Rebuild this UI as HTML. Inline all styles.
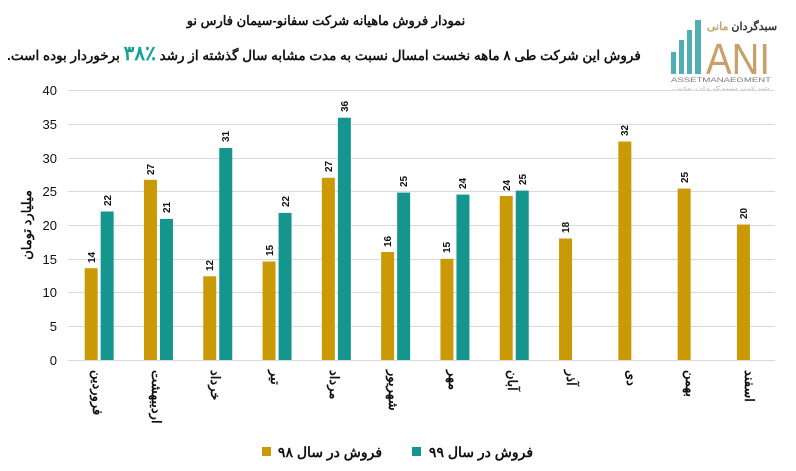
<!DOCTYPE html>
<html><head><meta charset="utf-8"><style>
html,body{margin:0;padding:0;background:#fff}
svg{display:block}
text{font-family:"Liberation Sans","Noto Sans CJK SC",sans-serif}
</style></head><body>
<svg width="796" height="471" viewBox="0 0 796 471" xmlns="http://www.w3.org/2000/svg">
<rect width="796" height="471" fill="#fff"/>
<!-- titles -->
<text x="326" y="25" text-anchor="middle" font-size="13" font-weight="bold" fill="#111">نمودار فروش ماهیانه شرکت سفانو-سیمان فارس نو</text>
<text x="324" y="60" text-anchor="middle" font-size="13.5" font-weight="bold" fill="#111" direction="rtl">فروش این شرکت طی ۸ ماهه نخست امسال نسبت به مدت مشابه سال گذشته از رشد <tspan fill="#17A096" font-size="20">٪۳۸</tspan> برخوردار بوده است.</text>
<!-- logo -->
<g fill="#4FAFB3">
<rect x="671" y="52" width="5" height="22"/>
<rect x="679" y="40" width="5" height="34"/>
<rect x="687" y="30" width="5" height="44"/>
<rect x="695" y="20" width="6" height="54"/>
</g>
<text x="742" y="30" text-anchor="middle" font-size="11" font-weight="bold" fill="#333">سبدگردان <tspan fill="#C8A06A">مانی</tspan></text>
<text x="738" y="74" text-anchor="middle" font-size="44" font-family="Liberation Serif,serif" fill="#C8A06A" textLength="64" lengthAdjust="spacingAndGlyphs">ANI</text>
<text x="721" y="82" text-anchor="middle" font-size="6.5" fill="#777" textLength="100" lengthAdjust="spacingAndGlyphs">ASSETMANAEGMENT</text>
<text x="721" y="90" text-anchor="middle" font-size="5" fill="#bbb" textLength="98" lengthAdjust="spacingAndGlyphs">شرکت سبدگردان مانی</text>
<!-- grid -->
<g stroke="#d9d9d9" stroke-width="1">
<line x1="68" y1="90.5" x2="775" y2="90.5"/>
<line x1="68" y1="124.5" x2="775" y2="124.5"/>
<line x1="68" y1="158.5" x2="775" y2="158.5"/>
<line x1="68" y1="191.5" x2="775" y2="191.5"/>
<line x1="68" y1="225.5" x2="775" y2="225.5"/>
<line x1="68" y1="259.5" x2="775" y2="259.5"/>
<line x1="68" y1="292.5" x2="775" y2="292.5"/>
<line x1="68" y1="326.5" x2="775" y2="326.5"/>
<line x1="68" y1="360.5" x2="775" y2="360.5"/>
</g>
<g font-size="13" text-anchor="end" fill="#111">
<text x="57" y="95">40</text><text x="57" y="129">35</text><text x="57" y="163">30</text>
<text x="57" y="196">25</text><text x="57" y="230">20</text><text x="57" y="264">15</text>
<text x="57" y="297">10</text><text x="57" y="331">5</text><text x="57" y="365">0</text>
</g>
<text transform="translate(31,225) rotate(-90)" text-anchor="middle" font-size="13" font-weight="bold" fill="#111">میلیارد تومان</text>
<!-- gold bars -->
<g fill="#C99A06">
<rect x="84.65" y="268.2" width="13" height="91.8"/>
<rect x="143.95" y="179.8" width="13" height="180.2"/>
<rect x="203.25" y="276.3" width="13" height="83.7"/>
<rect x="262.55" y="261.5" width="13" height="98.5"/>
<rect x="321.85" y="177.8" width="13" height="182.2"/>
<rect x="381.15" y="252" width="13" height="108"/>
<rect x="440.45" y="258.8" width="13" height="101.2"/>
<rect x="499.75" y="196" width="13" height="164"/>
<rect x="559.05" y="238.5" width="13" height="121.5"/>
<rect x="618.35" y="141.5" width="13" height="218.5"/>
<rect x="677.65" y="188.6" width="13" height="171.4"/>
<rect x="736.95" y="224.5" width="13" height="135.5"/>
</g>
<g fill="#14968F">
<rect x="100.65" y="211.5" width="13" height="148.5"/>
<rect x="159.95" y="218.9" width="13" height="141.1"/>
<rect x="219.25" y="148" width="13" height="212"/>
<rect x="278.55" y="212.9" width="13" height="147.1"/>
<rect x="337.85" y="117.7" width="13" height="242.3"/>
<rect x="397.15" y="192.6" width="13" height="167.4"/>
<rect x="456.45" y="194.6" width="13" height="165.4"/>
<rect x="515.75" y="190.6" width="13" height="169.4"/>
</g>
<!-- value labels -->
<g font-size="10" font-weight="bold" fill="#111">
<text transform="translate(95,263) rotate(-90)">14</text>
<text transform="translate(154,175) rotate(-90)">27</text>
<text transform="translate(213,271) rotate(-90)">12</text>
<text transform="translate(273,256) rotate(-90)">15</text>
<text transform="translate(332,172) rotate(-90)">27</text>
<text transform="translate(391,247) rotate(-90)">16</text>
<text transform="translate(450,253) rotate(-90)">15</text>
<text transform="translate(510,191) rotate(-90)">24</text>
<text transform="translate(569,233) rotate(-90)">18</text>
<text transform="translate(628,136) rotate(-90)">32</text>
<text transform="translate(688,183) rotate(-90)">25</text>
<text transform="translate(747,219) rotate(-90)">20</text>
<text transform="translate(111,206) rotate(-90)">22</text>
<text transform="translate(170,213) rotate(-90)">21</text>
<text transform="translate(229,142) rotate(-90)">31</text>
<text transform="translate(289,207) rotate(-90)">22</text>
<text transform="translate(348,112) rotate(-90)">36</text>
<text transform="translate(407,187) rotate(-90)">25</text>
<text transform="translate(466,189) rotate(-90)">24</text>
<text transform="translate(526,185) rotate(-90)">25</text>
</g>
<!-- month labels -->
<g font-size="13" font-weight="bold" fill="#111">
<text transform="translate(93,370) rotate(90)">فروردین</text>
<text transform="translate(152,370) rotate(90)">اردیبهشت</text>
<text transform="translate(211,370) rotate(90)">خرداد</text>
<text transform="translate(271,370) rotate(90)">تیر</text>
<text transform="translate(330,370) rotate(90)">مرداد</text>
<text transform="translate(389,370) rotate(90)">شهریور</text>
<text transform="translate(449,370) rotate(90)">مهر</text>
<text transform="translate(508,370) rotate(90)">آبان</text>
<text transform="translate(567,370) rotate(90)">آذر</text>
<text transform="translate(627,370) rotate(90)">دی</text>
<text transform="translate(686,370) rotate(90)">بهمن</text>
<text transform="translate(745,370) rotate(90)">اسفند</text>
</g>
<!-- legend -->
<rect x="262" y="447" width="9" height="9" fill="#C99A06"/>
<text x="330" y="457" font-size="14" font-weight="bold" fill="#111" text-anchor="middle">فروش در سال ۹۸</text>
<rect x="412" y="447" width="9" height="9" fill="#14968F"/>
<text x="481" y="457" font-size="14" font-weight="bold" fill="#111" text-anchor="middle">فروش در سال ۹۹</text>
</svg>
</body></html>
